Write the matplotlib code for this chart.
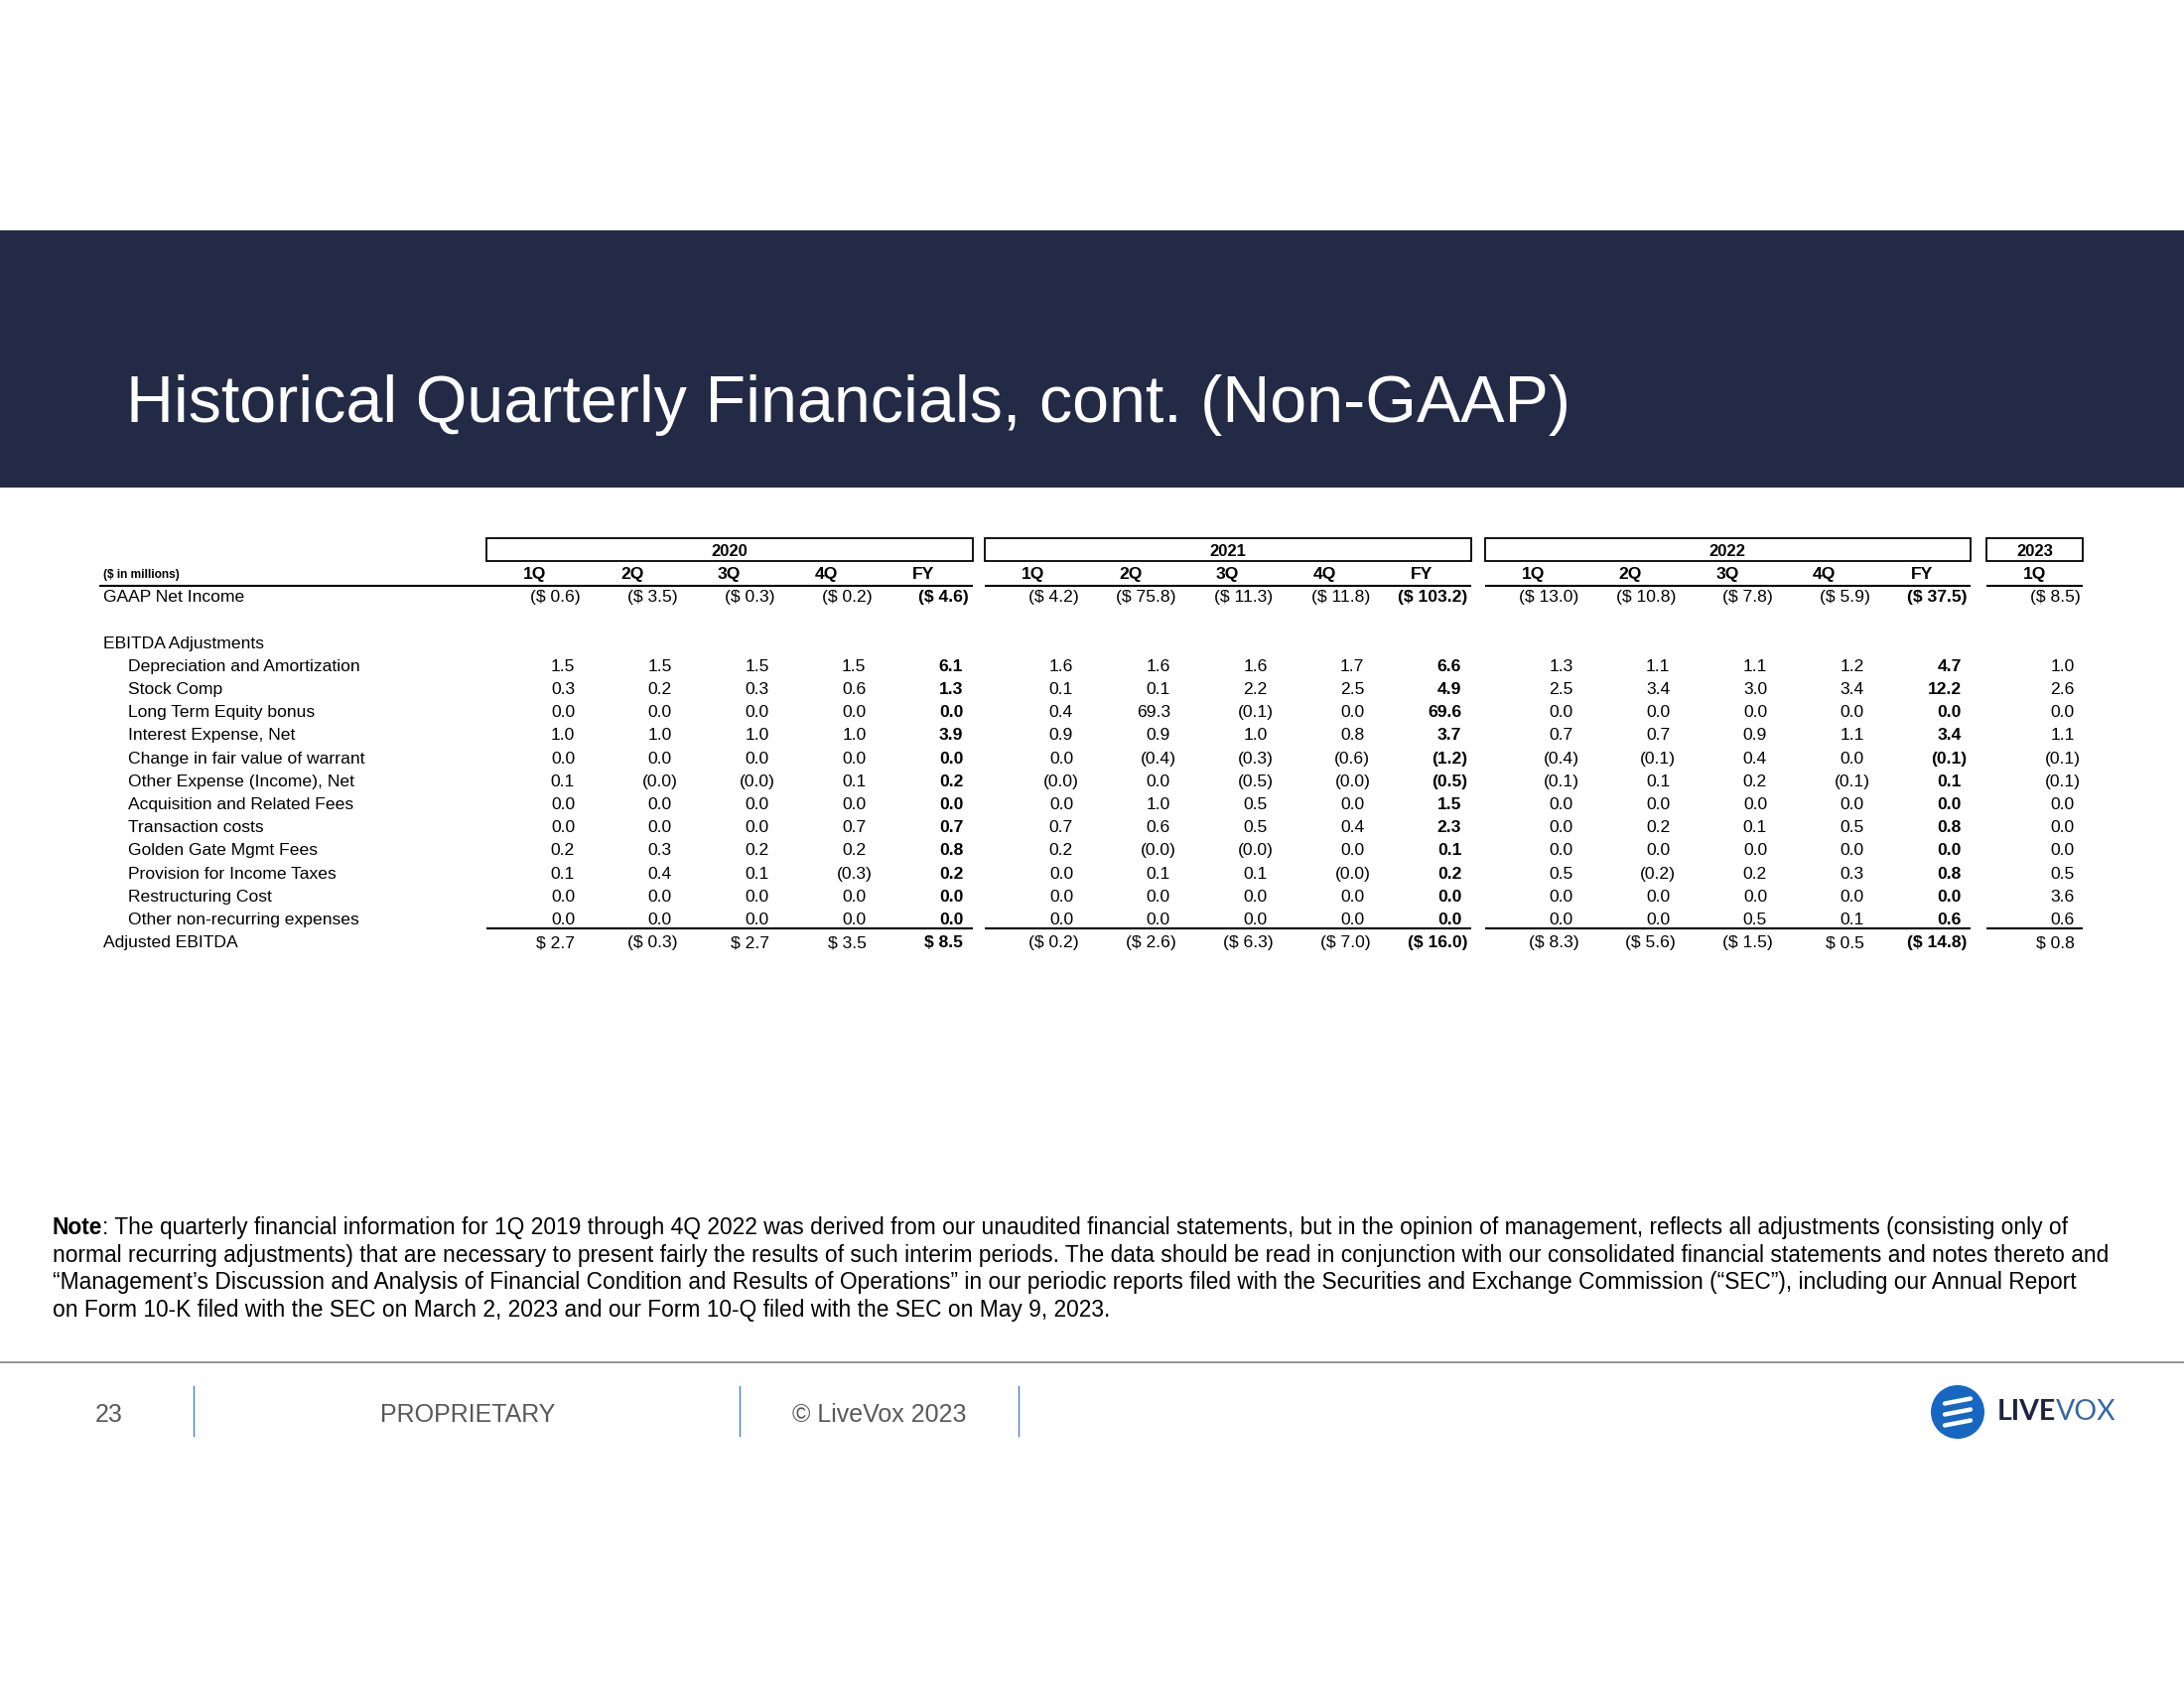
"""
Historical Quarterly Financials, cont. (Non-GAAP) - table slide
"""

import numpy as np
import matplotlib.pyplot as plt
from matplotlib.patches import Rectangle, Circle

plt.rcParams['font.family'] = ['Liberation Sans', 'DejaVu Sans']

# ---- Data ($ in millions) ----
YEARS = ['2020', '2021', '2022', '2023']
PERIODS = [['1Q', '2Q', '3Q', '4Q', 'FY'],
           ['1Q', '2Q', '3Q', '4Q', 'FY'],
           ['1Q', '2Q', '3Q', '4Q', 'FY'],
           ['1Q']]

# 16 columns: 2020 1Q..FY, 2021 1Q..FY, 2022 1Q..FY, 2023 1Q   (-0.0 shows as "(0.0)")
gaap_net_income = [-0.6, -3.5, -0.3, -0.2, -4.6, -4.2, -75.8, -11.3, -11.8, -103.2,
                   -13.0, -10.8, -7.8, -5.9, -37.5, -8.5]
dep_amort = [1.5, 1.5, 1.5, 1.5, 6.1, 1.6, 1.6, 1.6, 1.7, 6.6, 1.3, 1.1, 1.1, 1.2, 4.7, 1.0]
stock_comp = [0.3, 0.2, 0.3, 0.6, 1.3, 0.1, 0.1, 2.2, 2.5, 4.9, 2.5, 3.4, 3.0, 3.4, 12.2, 2.6]
lt_equity_bonus = [0.0, 0.0, 0.0, 0.0, 0.0, 0.4, 69.3, -0.1, 0.0, 69.6, 0.0, 0.0, 0.0, 0.0, 0.0, 0.0]
interest_exp = [1.0, 1.0, 1.0, 1.0, 3.9, 0.9, 0.9, 1.0, 0.8, 3.7, 0.7, 0.7, 0.9, 1.1, 3.4, 1.1]
warrant_fv = [0.0, 0.0, 0.0, 0.0, 0.0, 0.0, -0.4, -0.3, -0.6, -1.2, -0.4, -0.1, 0.4, 0.0, -0.1, -0.1]
other_exp = [0.1, -0.0, -0.0, 0.1, 0.2, -0.0, 0.0, -0.5, -0.0, -0.5, -0.1, 0.1, 0.2, -0.1, 0.1, -0.1]
acq_fees = [0.0, 0.0, 0.0, 0.0, 0.0, 0.0, 1.0, 0.5, 0.0, 1.5, 0.0, 0.0, 0.0, 0.0, 0.0, 0.0]
transaction = [0.0, 0.0, 0.0, 0.7, 0.7, 0.7, 0.6, 0.5, 0.4, 2.3, 0.0, 0.2, 0.1, 0.5, 0.8, 0.0]
golden_gate = [0.2, 0.3, 0.2, 0.2, 0.8, 0.2, -0.0, -0.0, 0.0, 0.1, 0.0, 0.0, 0.0, 0.0, 0.0, 0.0]
income_tax = [0.1, 0.4, 0.1, -0.3, 0.2, 0.0, 0.1, 0.1, -0.0, 0.2, 0.5, -0.2, 0.2, 0.3, 0.8, 0.5]
restructuring = [0.0, 0.0, 0.0, 0.0, 0.0, 0.0, 0.0, 0.0, 0.0, 0.0, 0.0, 0.0, 0.0, 0.0, 0.0, 3.6]
other_nonrec = [0.0, 0.0, 0.0, 0.0, 0.0, 0.0, 0.0, 0.0, 0.0, 0.0, 0.0, 0.0, 0.5, 0.1, 0.6, 0.6]
adjusted_ebitda = [2.7, -0.3, 2.7, 3.5, 8.5, -0.2, -2.6, -6.3, -7.0, -16.0,
                   -8.3, -5.6, -1.5, 0.5, -14.8, 0.8]

ADJ_LABELS = ['Depreciation and Amortization', 'Stock Comp', 'Long Term Equity bonus',
              'Interest Expense, Net', 'Change in fair value of warrant',
              'Other Expense (Income), Net', 'Acquisition and Related Fees',
              'Transaction costs', 'Golden Gate Mgmt Fees', 'Provision for Income Taxes',
              'Restructuring Cost', 'Other non-recurring expenses']
ADJ_VALUES = [dep_amort, stock_comp, lt_equity_bonus, interest_exp, warrant_fv, other_exp,
              acq_fees, transaction, golden_gate, income_tax, restructuring, other_nonrec]

TITLE = 'Historical Quarterly Financials, cont. (Non-GAAP)'
NOTE_LINES = [
    ': The quarterly financial information for 1Q 2019 through 4Q 2022 was derived from our unaudited financial statements, but in the opinion of management, reflects all adjustments (consisting only of',
    'normal recurring adjustments) that are necessary to present fairly the results of such interim periods. The data should be read in conjunction with our consolidated financial statements and notes thereto and',
    '\u201cManagement\u2019s Discussion and Analysis of Financial Condition and Results of Operations\u201d in our periodic reports filed with the Securities and Exchange Commission (\u201cSEC\u201d), including our Annual Report',
    'on Form 10-K filed with the SEC on March 2, 2023 and our Form 10-Q filed with the SEC on May 9, 2023.',
]

# ---- Style / layout (pixel units, 2200 x 1700 canvas) ----
DPI = 100
NAVY = '#232A46'
BLOCK_X = [490, 992, 1495.5, 2001]
CELL_W = 97.8
ROW0 = 675.7       # baseline of first adjustment row
ROW_H = 23.2
PAREN = 6          # hanging width of ")"
FS = 12.6
LABEL_X = 104
INDENT_X = 129


def fmt(v, dollar=False):
    s = f"{abs(v):.1f}"
    if dollar:
        s = "$ " + s
    return f"({s})" if np.signbit(v) else s


def row_y(k):
    return ROW0 + ROW_H * k


def col_right():
    xs = []
    for b, per in zip(BLOCK_X, PERIODS):
        for j in range(len(per)):
            xs.append(b + 89 + CELL_W * j)
    return xs


def draw_values(ax, vals, y, dollar=False):
    bold = [p == 'FY' for per in PERIODS for p in per]
    for x, v, b in zip(col_right(), vals, bold):
        xr = x + PAREN if np.signbit(v) else x
        ax.text(xr, y, fmt(v, dollar), ha='right', va='baseline', fontsize=FS,
                fontweight='bold' if b else 'normal', color='black')


def create_slide():
    fig = plt.figure(figsize=(22, 17), dpi=DPI)
    ax = fig.add_axes([0, 0, 1, 1])
    ax.set_xlim(0, 2200)
    ax.set_ylim(1700, 0)
    ax.axis('off')

    # header band and title
    ax.add_patch(Rectangle((0, 231.5), 2200, 259.5, color=NAVY, lw=0))
    ax.text(127, 425, TITLE, fontsize=47.8, color='white', va='baseline', ha='left')

    # year boxes and column headers
    y_year, y_head = row_y(-5), row_y(-4)
    for b, yr, per in zip(BLOCK_X, YEARS, PERIODS):
        w = 97 if len(per) == 1 else 489.5
        ax.add_patch(Rectangle((b, 542), w, 23, fill=False, ec='black', lw=1.3))
        ax.text(b + w / 2, y_year, yr, ha='center', va='baseline', fontsize=12,
                fontweight='bold')
        for j, p in enumerate(per):
            ax.text(b + CELL_W * j + 49, y_head, p, ha='center', va='baseline',
                    fontsize=FS, fontweight='bold')
        x0 = LABEL_X - 4 if b == BLOCK_X[0] else b
        ax.plot([x0, b + w], [589.5, 589.5], color='black', lw=1.5,
                solid_capstyle='butt')
        ax.plot([b, b + w], [935, 935], color='black', lw=1.5, solid_capstyle='butt')
    ax.text(LABEL_X, y_head - 1, '($ in millions)', ha='left', va='baseline',
            fontsize=8.6, fontweight='bold')

    # rows
    ax.text(LABEL_X, row_y(-3), 'GAAP Net Income', fontsize=FS, va='baseline')
    draw_values(ax, gaap_net_income, row_y(-3), dollar=True)
    ax.text(LABEL_X, row_y(-1), 'EBITDA Adjustments', fontsize=FS, va='baseline')
    for k, (lab, vals) in enumerate(zip(ADJ_LABELS, ADJ_VALUES)):
        ax.text(INDENT_X, row_y(k), lab, fontsize=FS, va='baseline')
        draw_values(ax, vals, row_y(k))
    ax.text(LABEL_X, row_y(12), 'Adjusted EBITDA', fontsize=FS, va='baseline')
    draw_values(ax, adjusted_ebitda, row_y(12), dollar=True)

    # note
    note_fs = 16.4
    t = ax.text(53, 1243, 'Note', fontsize=note_fs, fontweight='bold', va='baseline')
    ax.annotate(NOTE_LINES[0], xy=(1, 0), xycoords=t, va='bottom', ha='left',
                fontsize=note_fs)
    for i, line in enumerate(NOTE_LINES[1:], start=1):
        ax.text(53, 1243 + 27.6 * i, line, fontsize=note_fs, va='baseline')

    # footer
    ax.plot([0, 2200], [1371.5, 1371.5], color='#8a8a8a', lw=1.3)
    for x in [195, 745, 1026]:
        ax.plot([x, x], [1396, 1446], color='#4a7fc0', lw=1.0)
    grey = '#595959'
    ax.text(110, 1425, '23', ha='center', va='center', fontsize=18, color=grey)
    ax.text(471, 1425, 'PROPRIETARY', ha='center', va='center', fontsize=18, color=grey)
    ax.text(886, 1425, '\u00a9 LiveVox 2023', ha='center', va='center', fontsize=18,
            color=grey)

    # logo
    cx, cy = 1972, 1422
    ax.add_patch(Circle((cx, cy), 27, color='#1766c2', lw=0))
    for dy in [-11, 0, 11]:
        ax.plot([cx - 13, cx + 13], [cy + dy + 2.5, cy + dy - 2.5], color='white',
                lw=3.2, solid_capstyle='round')
    lt = ax.text(2012, cy, 'LIVE', ha='left', va='center', fontsize=20.5,
                 fontweight='bold', color='#1f2340', family=['Lato', 'Liberation Sans'])
    ax.annotate('VOX', xy=(1, 0), xycoords=lt, va='bottom', ha='left', fontsize=20.5,
                color='#3567a6', fontweight='normal', family=['Lato', 'Liberation Sans'])

    fig.savefig('out.png', dpi=DPI, facecolor='white')


if __name__ == "__main__":
    create_slide()
